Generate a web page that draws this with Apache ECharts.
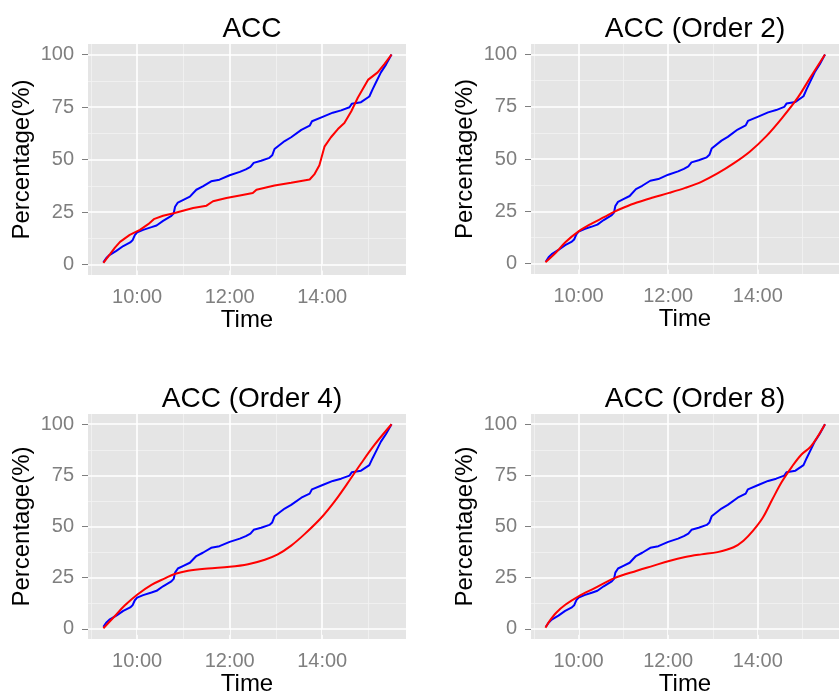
<!DOCTYPE html>
<html>
<head>
<meta charset="utf-8">
<script src="https://cdn.jsdelivr.net/npm/echarts@6/dist/echarts.min.js"></script>
<style>html,body{margin:0;padding:0;background:#fff}#c{width:839px;height:697px}</style>
</head>
<body>
<div id="c"></div>
<script>
// ---- data (time in decimal hours, value in %) ----
const titles = ['ACC', 'ACC (Order 2)', 'ACC (Order 4)', 'ACC (Order 8)'];
const xTickValues = [10, 12, 14];
const yTickValues = [0, 25, 50, 75, 100];
const xMinorValues = [9, 11, 13, 15];
const yMinorValues = [12.5, 37.5, 62.5, 87.5];

const blueT = [9.27, 9.33, 9.40, 9.55, 9.70, 9.85, 9.90, 9.95, 10.00, 10.13, 10.31, 10.42, 10.56, 10.74, 10.79, 10.82, 10.88, 11.00, 11.14, 11.28, 11.42, 11.60, 11.78, 12.00, 12.22, 12.35, 12.45, 12.52, 12.68, 12.86, 12.92, 12.97, 13.19, 13.33, 13.55, 13.73, 13.78, 14.01, 14.23, 14.41, 14.59, 14.64, 14.84, 15.02, 15.09, 15.17, 15.27, 15.38, 15.50];
const blueV = [1.0, 3.0, 4.5, 6.5, 8.8, 10.5, 11.5, 14.0, 15.3, 16.5, 17.8, 18.6, 20.8, 23.2, 24.4, 27.5, 29.5, 30.8, 32.3, 35.6, 37.2, 39.6, 40.4, 42.5, 44.1, 45.3, 46.5, 48.4, 49.4, 50.8, 52.0, 55.0, 58.8, 60.6, 64.1, 66.1, 68.2, 70.3, 72.3, 73.4, 74.9, 76.5, 77.3, 80.0, 83.4, 87.0, 91.5, 95.2, 100.0];

const red1T = [9.27, 9.41, 9.52, 9.63, 9.84, 10.06, 10.24, 10.36, 10.56, 10.79, 10.99, 11.21, 11.50, 11.64, 11.93, 12.22, 12.50, 12.58, 12.97, 13.33, 13.73, 13.83, 13.94, 14.05, 14.19, 14.34, 14.48, 14.63, 14.77, 14.99, 15.20, 15.35, 15.50];
const red1V = [0.8, 4.8, 8.0, 10.8, 14.1, 16.5, 19.2, 21.6, 23.2, 24.4, 25.6, 26.9, 28.0, 30.1, 31.7, 32.9, 34.0, 35.6, 37.6, 38.9, 40.5, 42.9, 47.3, 56.1, 60.6, 64.5, 67.4, 73.0, 79.4, 87.9, 91.5, 95.5, 100.0];

const red2T = [9.26, 9.50, 9.71, 10.00, 10.29, 10.58, 10.79, 11.01, 11.30, 11.66, 12.02, 12.38, 12.74, 13.10, 13.46, 13.82, 14.18, 14.54, 14.90, 15.19, 15.50];
const red2V = [0.6, 5.4, 10.3, 15.4, 19.1, 22.3, 24.7, 26.8, 29.2, 31.6, 33.8, 36.2, 39.1, 43.1, 47.9, 53.5, 60.7, 69.6, 79.6, 89.6, 100.0];

const red4T = [9.27, 9.52, 9.73, 10.00, 10.31, 10.60, 10.81, 11.10, 11.53, 12.00, 12.40, 12.76, 13.04, 13.33, 13.62, 13.98, 14.27, 14.55, 14.84, 15.13, 15.50];
const red4V = [0.3, 6.3, 11.4, 16.7, 21.5, 24.7, 26.8, 28.4, 29.5, 30.3, 31.6, 33.8, 36.4, 40.7, 46.3, 54.3, 62.3, 71.2, 80.8, 89.9, 100.0];

const red8T = [9.26, 9.35, 9.50, 9.71, 10.00, 10.36, 10.79, 11.30, 11.66, 12.02, 12.38, 12.74, 13.10, 13.46, 13.68, 13.89, 14.11, 14.32, 14.54, 14.76, 14.97, 15.19, 15.50];
const red8V = [0.6, 3.8, 7.9, 11.9, 15.9, 19.9, 24.7, 28.4, 30.8, 33.2, 35.1, 36.4, 37.5, 39.9, 43.1, 47.9, 54.3, 63.1, 72.0, 79.2, 85.1, 89.3, 100.0];

const reds = [[red1T, red1V, false], [red2T, red2V, true], [red4T, red4V, true], [red8T, red8V, true]];

// ---- layout ----
const FONT = 'Liberation Sans, Arial, Helvetica, sans-serif';
const panels = [
  {left: 88, top: 44, h: 231},
  {left: 531, top: 44, h: 230},
  {left: 88, top: 414, h: 229},
  {left: 531, top: 414, h: 229}
];
const PW = 318;

const zip = (t, v) => t.map((x, i) => [x, v[i]]);
const fmtTime = v => (v < 10 ? '0' : '') + v + ':00';

const grid = [], xAxis = [], yAxis = [], series = [], title = [];
panels.forEach((p, i) => {
  grid.push({left: p.left, top: p.top, width: PW, height: p.h, show: true,
    backgroundColor: '#E5E5E5', borderWidth: 0, containLabel: false});
  title.push({text: titles[i], left: p.left + PW / 2, top: p.top - 34, textAlign: 'center',
    textStyle: {fontFamily: FONT, fontSize: 28, fontWeight: 'normal', color: '#000'}});
  xAxis.push({type: 'value', gridIndex: i, min: 8.9375, max: 15.8125,
    name: 'Time', nameLocation: 'middle', nameGap: 31,
    nameTextStyle: {fontFamily: FONT, fontSize: 24, color: '#000'},
    axisLine: {show: false},
    axisTick: {show: true, customValues: xTickValues, length: 6, lineStyle: {color: '#7F7F7F', width: 1}},
    axisLabel: {show: true, customValues: xTickValues, formatter: fmtTime, margin: 12,
      fontFamily: FONT, fontSize: 20, color: '#7F7F7F'},
    splitLine: {show: false}});
  yAxis.push({type: 'value', gridIndex: i, min: -5, max: 105,
    name: 'Percentage(%)', nameLocation: 'middle', nameGap: 54, nameRotate: 90,
    nameTextStyle: {fontFamily: FONT, fontSize: 24, color: '#000'},
    axisLine: {show: false},
    axisTick: {show: true, customValues: yTickValues, length: 6, lineStyle: {color: '#7F7F7F', width: 1}},
    axisLabel: {show: true, customValues: yTickValues, margin: 14,
      fontFamily: FONT, fontSize: 20, color: '#7F7F7F'},
    splitLine: {show: false}});
  const minor = {color: '#F2F2F2', width: 0.8, type: 'solid'};
  const major = {color: '#FFFFFF', width: 1.6, type: 'solid'};
  const ml = [];
  xMinorValues.forEach(v => ml.push({xAxis: v, lineStyle: minor}));
  yMinorValues.forEach(v => ml.push({yAxis: v, lineStyle: minor}));
  xTickValues.forEach(v => ml.push({xAxis: v, lineStyle: major}));
  yTickValues.forEach(v => ml.push({yAxis: v, lineStyle: major}));
  series.push({type: 'line', xAxisIndex: i, yAxisIndex: i, data: [], z: 1, silent: true,
    markLine: {silent: true, z: 1, zlevel: 0, symbol: ['none', 'none'], label: {show: false}, animation: false, data: ml}});
  series.push({type: 'line', xAxisIndex: i, yAxisIndex: i, data: zip(blueT, blueV), z: 6,
    showSymbol: false, lineStyle: {color: '#0000FF', width: 2}, itemStyle: {color: '#0000FF'}});
  series.push({type: 'line', xAxisIndex: i, yAxisIndex: i, data: zip(reds[i][0], reds[i][1]), z: 7,
    smooth: reds[i][2] ? 0.35 : false,
    showSymbol: false, lineStyle: {color: '#FF0000', width: 2}, itemStyle: {color: '#FF0000'}});
});

const chart = echarts.init(document.getElementById('c'), null, {renderer: 'canvas'});
chart.setOption({animation: false, backgroundColor: '#FFFFFF', title, grid, xAxis, yAxis, series});
</script>
</body>
</html>
